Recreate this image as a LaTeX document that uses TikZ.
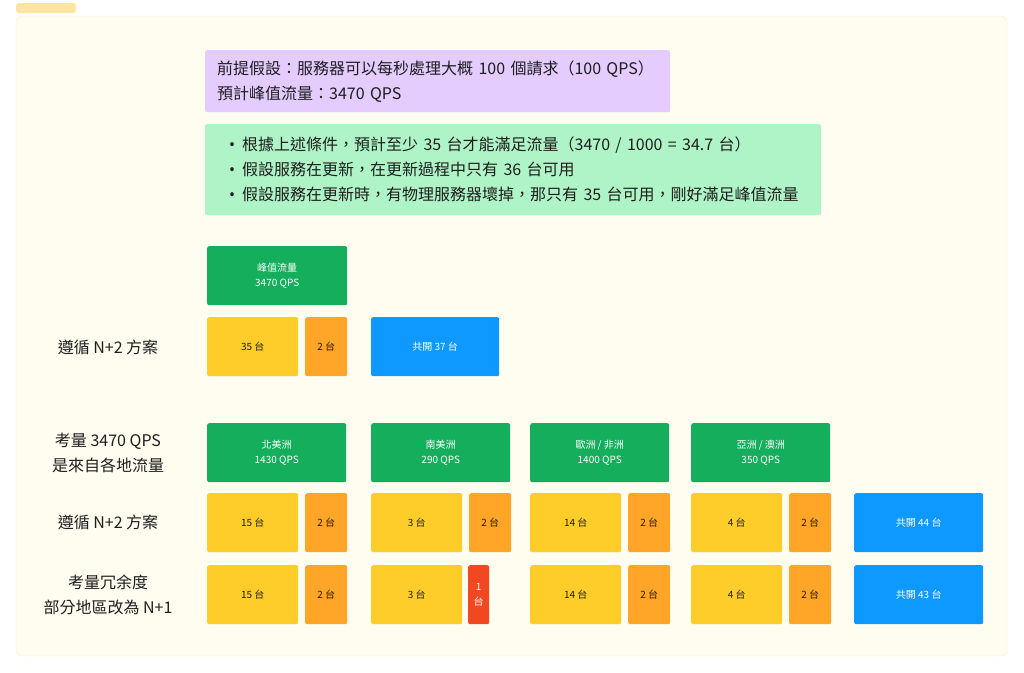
\documentclass[tikz,border=0pt]{standalone}
\usepackage{fontspec}
\setmainfont{Noto Sans CJK TC}
\newfontfamily\bulletfont{Noto Sans}
\definecolor{paper}{HTML}{FFFCF0}
\definecolor{paperline}{HTML}{FCEFC8}
\definecolor{tabyellow}{HTML}{FDE4A0}
\definecolor{lavender}{HTML}{E4CCFF}
\definecolor{mint}{HTML}{AFF4C6}
\definecolor{figgreen}{HTML}{14AE5C}
\definecolor{figyellow}{HTML}{FFCD29}
\definecolor{figorange}{HTML}{FFA629}
\definecolor{figblue}{HTML}{0D99FF}
\definecolor{figred}{HTML}{F24822}
\definecolor{ink}{HTML}{1E1E1E}
\newcommand{\itembullet}{\hspace*{6pt}\makebox[13pt][l]{\bulletfont•}}
\begin{document}
\begin{tikzpicture}[x=1pt,y=-1pt,
    box/.style={rounded corners=2pt, anchor=north west, inner sep=0pt, minimum height=59pt, align=center, font=\fontsize{10}{15}\selectfont},
    srvbox/.style={box, fill=figyellow, text=ink, minimum width=91pt},
    sparebox/.style={box, fill=figorange, text=ink, minimum width=42pt},
    cutbox/.style={box, fill=figred, text=white, minimum width=21pt},
    regionbox/.style={box, fill=figgreen, text=white, minimum width=140pt},
    totalbox/.style={box, fill=figblue, text=white, minimum width=129pt},
    rowlabel/.style={align=center, text=ink, font=\fontsize{16}{25}\selectfont},
    notebox/.style={rounded corners=2pt, anchor=north west, align=left, text=ink, font=\fontsize{16}{25}\selectfont}]
    \useasboundingbox (0,0) rectangle (1024,672);

    % Section
    \fill[tabyellow, rounded corners=3pt] (16,3) rectangle (76,13);
    \filldraw[fill=paper, draw=paperline, rounded corners=6pt] (16,16) rectangle (1007,656);

    % Hypotheses
    \node[notebox, fill=lavender, text width=441pt, inner xsep=12pt, inner ysep=0pt, minimum height=62pt] (hypo) at (205,50)
        {前提假設：服務器可以每秒處理大概 100 個請求（100 QPS）\\預計峰值流量：3470 QPS};
    \node[notebox, fill=mint, text width=580pt, inner xsep=18pt, inner ysep=0pt, minimum height=91pt] (notes) at (205,124)
        {\itembullet 根據上述條件，預計至少 35 台才能滿足流量（3470 / 1000 = 34.7 台）\\
         \itembullet 假設服務在更新，在更新過程中只有 36 台可用\\
         \itembullet 假設服務在更新時，有物理服務器壞掉，那只有 35 台可用，剛好滿足峰值流量};

    % Row labels
    \node[rowlabel] (lbl-all) at (108,347) {遵循 N+2 方案};
    \node[rowlabel] (lbl-reg) at (108,452.5) {考量 3470 QPS\\是來自各地流量};
    \node[rowlabel] (lbl-n2) at (108,522.5) {遵循 N+2 方案};
    \node[rowlabel] (lbl-n1) at (108,594.5) {考量冗余度\\部分地區改為 N+1};

    % Single site
    \node[regionbox] (peak) at (207,246) {峰值流量\\3470 QPS};
    \node[srvbox] (all-n) at (207,317) {35 台};
    \node[sparebox] (all-s) at (305,317) {2 台};
    \node[totalbox, minimum width=128pt] (all-t) at (371,317) {共開 37 台};

    % Per region
    \foreach \cx/\nm/\reg/\qps/\n in {207/na/北美洲/1430/15, 371/sa/南美洲/290/3,
        530/eu/{歐洲 / 非洲}/1400/14, 691/as/{亞洲 / 澳洲}/350/4} {
        \node[regionbox, minimum width=139pt] (\nm-reg) at (\cx,423) {\reg\\\qps{} QPS};
        \node[srvbox] (\nm-n2) at (\cx,493) {\n{} 台};
        \node[sparebox] (\nm-s2) at (\cx+98,493) {2 台};
        \node[srvbox] (\nm-n1) at (\cx,565) {\n{} 台};
    }
    \foreach \cx/\nm in {207/na, 530/eu, 691/as}
        \node[sparebox] (\nm-s1) at (\cx+98,565) {2 台};
    \node[cutbox] (sa-s1) at (468,565) {1\\台};

    % Totals
    \node[totalbox] (tot-n2) at (854,493) {共開 44 台};
    \node[totalbox] (tot-n1) at (854,565) {共開 43 台};
\end{tikzpicture}
\end{document}
